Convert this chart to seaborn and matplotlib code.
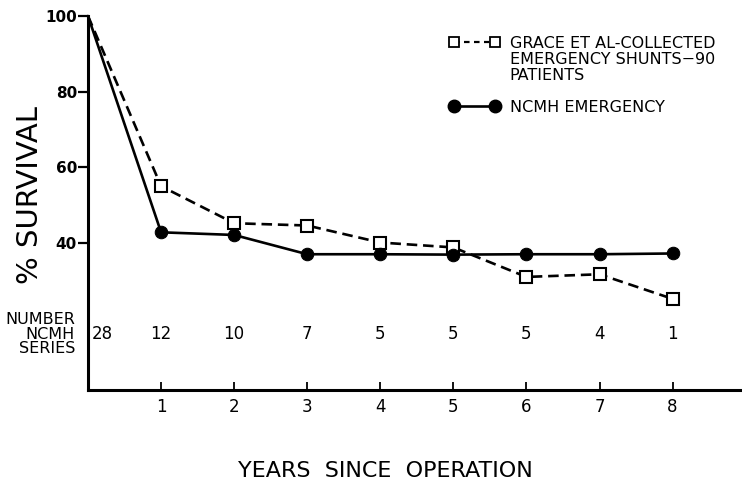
import matplotlib
matplotlib.use("Agg")
import matplotlib.pyplot as plt
from matplotlib.lines import Line2D
import seaborn as sns
import pandas as pd

years = [0, 1, 2, 3, 4, 5, 6, 7, 8]
grace = [100, 55.0, 45.2, 44.6, 40.1, 38.8, 31.0, 31.7, 25.2]
ncmh = [100, 42.8, 42.1, 37.0, 37.0, 36.9, 37.0, 37.0, 37.2]
number_ncmh = ["28", "12", "10", "7", "5", "5", "5", "4", "1"]
y_ticks = [40, 60, 80, 100]
x_ticks = [1, 2, 3, 4, 5, 6, 7, 8]
legend_grace = ["GRACE ET AL-COLLECTED", "EMERGENCY SHUNTS\u221290", "PATIENTS"]
legend_ncmh = "NCMH EMERGENCY"

sns.set_style("ticks")
plt.rcParams["font.family"] = ["DejaVu Sans"]
plt.rcParams["text.color"] = "black"

df = pd.DataFrame({"year": years, "grace": grace, "ncmh": ncmh})

fig = plt.figure(figsize=(7.42, 4.83), dpi=100)
ax = fig.add_axes([88 / 742, 1 - 390 / 483, 1 - 88 / 742, (390 - 16) / 483])

sns.lineplot(data=df, x="year", y="grace", ax=ax, color="black", lw=1.9,
             marker="s", markersize=8, markerfacecolor="white",
             markeredgecolor="black", markeredgewidth=1.5,
             markevery=slice(1, None), clip_on=False, zorder=3)
ax.lines[-1].set_dashes((4, 2.2))
sns.lineplot(data=df, x="year", y="ncmh", ax=ax, color="black", lw=1.9,
             marker="o", markersize=9, markerfacecolor="black",
             markeredgecolor="black", markevery=slice(1, None),
             clip_on=False, zorder=4)

ax.set_xlim(0, 8.95)
ax.set_ylim(1.1, 100)
ax.set_xlabel("")
ax.set_ylabel("")
for s in ["top", "right"]:
    ax.spines[s].set_visible(False)
for s in ["left", "bottom"]:
    ax.spines[s].set_linewidth(2.2)
    ax.spines[s].set_color("black")

ax.set_yticks(y_ticks)
ax.set_yticklabels([str(v) for v in y_ticks], fontsize=11, fontweight="bold")
ax.tick_params(axis="y", direction="out", length=7, width=1.6, pad=1,
               colors="black", labelcolor="black")
ax.set_xticks(x_ticks)
ax.set_xticklabels([str(v) for v in x_ticks], fontsize=12)
ax.tick_params(axis="x", direction="in", length=6, width=1.3, pad=6,
               colors="black", labelcolor="black")

# number row
for i, (x, n) in enumerate(zip(years, number_ncmh)):
    if i == 0:
        ax.annotate(n, (x, 15.9), xytext=(10, 0), textcoords="offset points",
                    ha="center", va="center", fontsize=12, annotation_clip=False)
    else:
        ax.text(x, 15.9, n, ha="center", va="center", fontsize=12)
ax.text(-0.02, 15.9, "NUMBER\nNCMH\nSERIES", transform=ax.get_yaxis_transform(),
        ha="right", va="center", fontsize=11.5, multialignment="right", linespacing=0.98)

fig.text(30 / 742, 1 - 195 / 483, "% SURVIVAL", rotation=90, ha="center",
         va="center", fontsize=21)
fig.text(385 / 742, 1 - 471 / 483, "YEARS  SINCE  OPERATION", ha="center",
         va="center", fontsize=16)

h_grace = Line2D([], [], color="black", lw=1.6, dashes=(2.5, 2.0), marker="s",
                 markersize=7, markerfacecolor="white", markeredgecolor="black",
                 markeredgewidth=1.3)
h_ncmh = Line2D([], [], color="black", lw=1.9, marker="o", markersize=9,
                markerfacecolor="black")
h_blank = Line2D([], [], color="none")
handles = [h_grace, h_blank, h_blank, h_blank, h_ncmh]
labels = [legend_grace[0], legend_grace[1], legend_grace[2], " ", legend_ncmh]
leg = ax.legend(handles, labels, loc="upper left", bbox_to_anchor=(449 / 742, 1 - 36 / 483),
                bbox_transform=fig.transFigure, frameon=False, numpoints=2,
                handlelength=3.2, handletextpad=0.6, labelspacing=0.06,
                fontsize=11.5, borderpad=0, borderaxespad=0)
for t in leg.get_texts():
    t.set_color("black")

fig.savefig("out.png", dpi=100)
